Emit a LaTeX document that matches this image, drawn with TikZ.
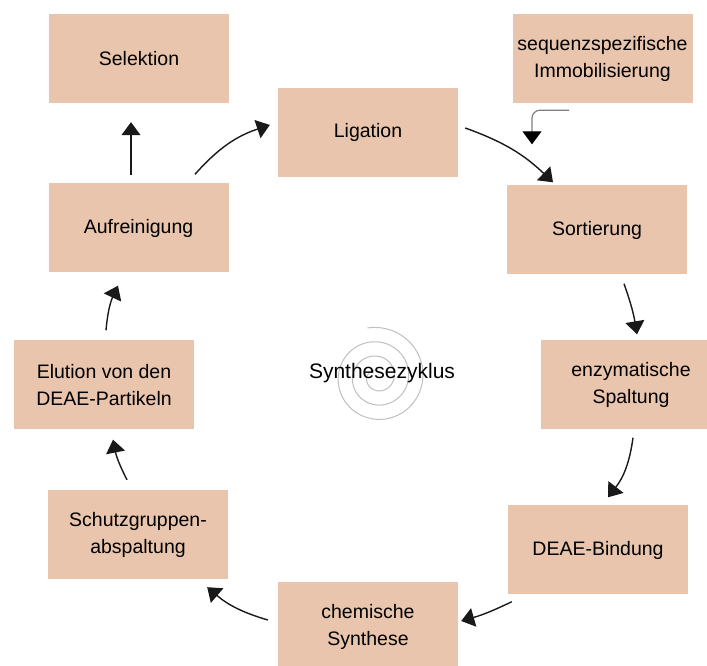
\documentclass[tikz,border=0pt]{standalone}
\usepackage{fontspec}
\setmainfont{Liberation Sans}
\usetikzlibrary{arrows.meta}
\definecolor{boxfill}{RGB}{232,197,172}

\begin{document}
\begin{tikzpicture}[x=1pt,y=1pt,
  stage/.style={rectangle, fill=boxfill, minimum width=180pt, minimum height=89pt,
    inner sep=0pt, align=center, font=\fontsize{19.5}{27}\selectfont},
  flow/.style={-{Triangle[length=13pt,width=19pt]}, line width=1.4pt, black!90},
  feed/.style={-{Triangle[length=13pt,width=19pt,color=black]}, line width=1.2pt,
    gray, rounded corners=8pt}
]
  \useasboundingbox (0,0) rectangle (707,666);

  % central spiral with the cycle label
  \coordinate (hub) at (377,289);
  \draw[gray!50, line width=1pt, shift={(hub)}]
    plot[domain=0:3, samples=240, smooth] ({(7+43*\x/3)*cos(360*\x-978)}, {(7+43*\x/3)*sin(360*\x-978)});
  \node[font=\fontsize{21}{25}\selectfont] (zyk) at (382,293) {Synthesezyklus};

  % the stages of the cycle
  \node[stage] (sel)    at (139,607.5) {Selektion};
  \node[stage] (imm)    at (602.5,607.5) {sequenzspezifische\\Immobilisierung};
  \node[stage] (lig)    at (368,533.5) {Ligation};
  \node[stage] (auf)    at (138.5,438) {Aufreinigung};
  \node[stage] (sort)   at (597,436) {Sortierung};
  \node[stage] (elu)    at (104,281) {Elution von den\\DEAE-Partikeln};
  \node[stage] (enz)    at (631,281) {enzymatische\\Spaltung};
  \node[stage] (schutz) at (138,131.5) {Schutzgruppen-\\abspaltung};
  \node[stage] (deae)   at (598,116) {DEAE-Bindung};
  \node[stage] (chem)   at (368,39.5) {chemische\\Synthese};

  % transitions, all bent outwards
  \draw[flow] ([shift={(-7.5,8)}]auf.north) -- ([shift={(-8,-19)}]sel.south);
  \draw[flow] ([shift={(56.5,9)}]auf.north) to[bend left=15] ([shift={(-8,7.5)}]lig.west);
  \draw[flow] ([shift={(7,4.5)}]lig.east) to[bend left=12] ([shift={(-44,3)}]sort.north);
  \draw[flow] ([shift={(27,-9)}]sort.south) to[bend left=5] ([shift={(6,6)}]enz.north);
  \draw[flow] ([shift={(2,-8)}]enz.south) to[bend left=15] ([shift={(10,8)}]deae.north);
  \draw[flow] ([shift={(4,-7)}]deae.south west) to[bend left=5] ([shift={(3,5.5)}]chem.east);
  \draw[flow] ([shift={(-10,6.5)}]chem.west) to[bend left=12] ([shift={(-21,-8)}]schutz.south east);
  \draw[flow] ([shift={(-11,10)}]schutz.north) to[bend left=8] ([shift={(9,-10)}]elu.south);
  \draw[flow] ([shift={(2,10)}]elu.north) to[bend left=10] ([shift={(-20.5,-13)}]auf.south);

  % feed into the sorting step
  \draw[feed] ([shift={(-33.5,-7)}]imm.south) -| ([shift={(-65,41)}]sort.north);
\end{tikzpicture}
\end{document}
